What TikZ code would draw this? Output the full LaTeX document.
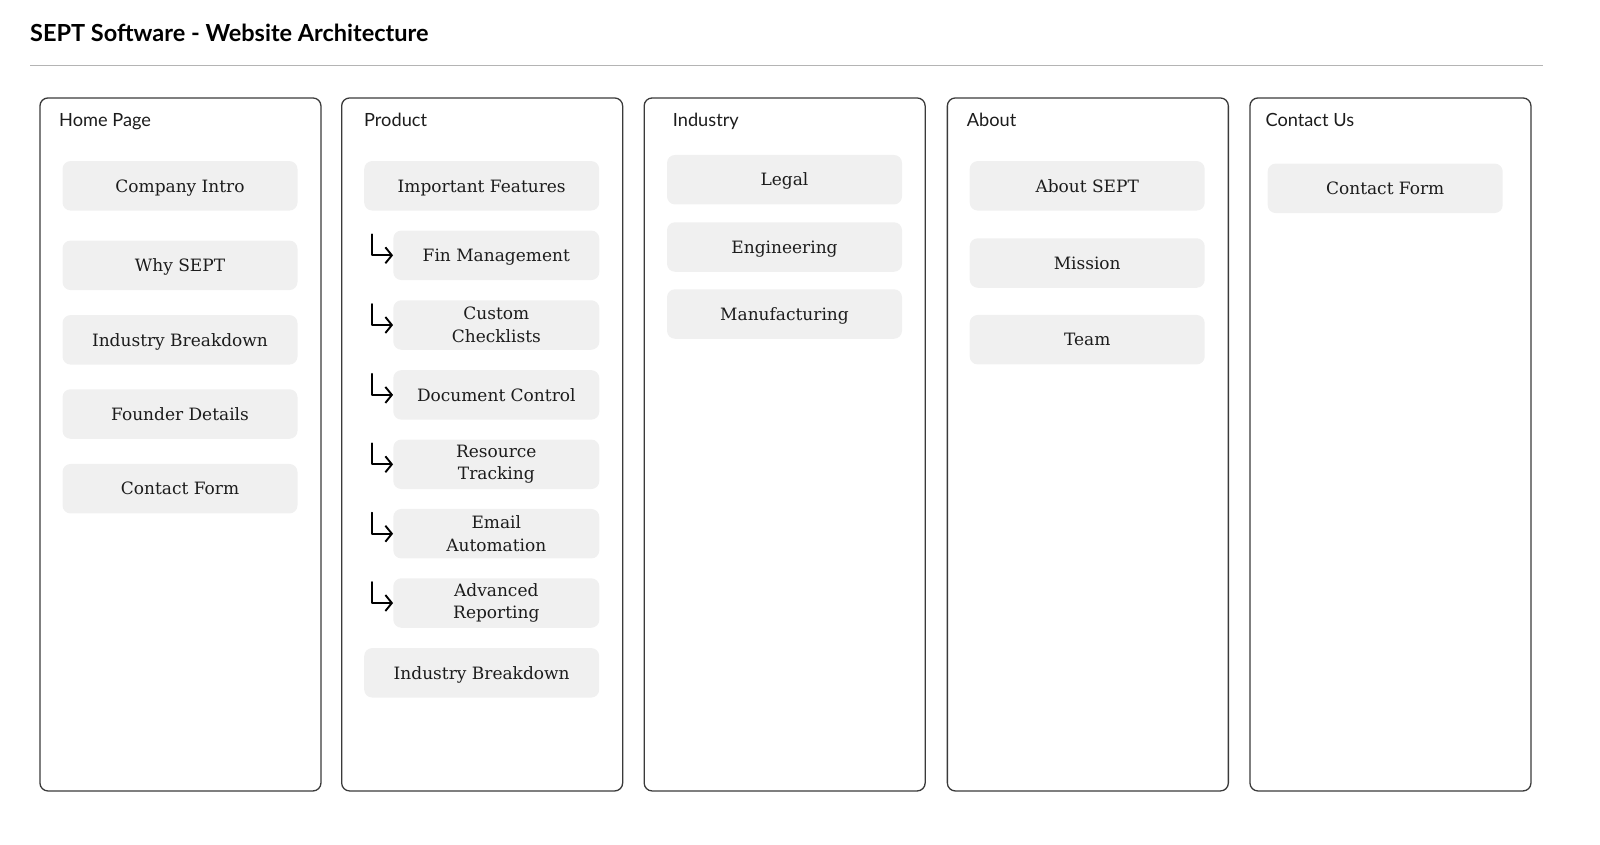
\documentclass[tikz,border=0pt]{standalone}
\usepackage{fontspec}
\usetikzlibrary{arrows.meta}
\setmainfont{DejaVu Serif}
\newfontfamily\headfont{Lato}
\definecolor{itemgray}{HTML}{F0F0F0}
\definecolor{framegray}{HTML}{3A3A3A}
\definecolor{rulegray}{HTML}{B4B4B4}
\definecolor{inktext}{HTML}{1C1C1C}
\begin{document}
\begin{tikzpicture}[x=1pt,y=-1pt,line join=round,
	colbox/.style={draw=framegray,line width=1.3pt,rounded corners=8pt,minimum width=281pt,minimum height=693pt,anchor=north west,inner sep=0pt},
	colhead/.style={anchor=base west,inner sep=0pt,font=\headfont\fontsize{18.2}{21}\selectfont,text=inktext},
	itembox/.style={fill=itemgray,rounded corners=8pt,minimum width=235pt,minimum height=49.5pt,inner sep=0pt,align=center,text=inktext,font=\fontsize{17}{22.4}\selectfont,text height=12.4pt,text depth=0pt},
	subbox/.style={itembox,minimum width=206pt},
	twoline/.style={text height=,text depth=},
	subarrow/.style={-{Straight Barb[length=6.5pt,width=16pt]},line width=1.9pt,line cap=round}]
	\useasboundingbox (0,0) rectangle (1600,844);
	% title and rule
	\node[anchor=base west,inner sep=0pt,font=\headfont\bfseries\fontsize{23.5}{26}\selectfont,text=black] (title) at (30,41.7) {SEPT Software - Website Architecture};
	\coordinate (ruleL) at (30,65.7);
	\coordinate (ruleR) at (1543,65.7);
	\draw[rulegray,line width=1.5pt] (ruleL) -- (ruleR);
	% columns
	\node[colbox] (home) at (39.3,97.3) {};
	\node[colbox] (product) at (341,97.3) {};
	\node[colbox] (industry) at (643.5,97.3) {};
	\node[colbox] (about) at (946.7,97.3) {};
	\node[colbox] (contact) at (1249.3,97.3) {};
	\node[colhead] (homehead) at (59,126) {Home Page};
	\node[colhead] (producthead) at (364,126) {Product};
	\node[colhead] (industryhead) at (672.7,126) {Industry};
	\node[colhead] (abouthead) at (966.7,126) {About};
	\node[colhead] (contacthead) at (1265.3,126) {Contact Us};
	% home page
	\node[itembox] (intro) at (180,185.8) {Company Intro};
	\node[itembox] (why) at (180,265.3) {Why SEPT};
	\node[itembox] (breakdown) at (180,339.8) {Industry Breakdown};
	\node[itembox] (founder) at (180,414) {Founder Details};
	\node[itembox] (homeform) at (180,488.7) {Contact Form};
	% product
	\node[itembox] (features) at (481.7,185.8) {Important Features};
	\node[subbox] (fin) at (496.3,255.3) {Fin Management};
	\node[subbox,twoline] (custom) at (496.3,325) {Custom\\Checklists};
	\node[subbox] (doc) at (496.3,394.9) {Document Control};
	\node[subbox,twoline] (res) at (496.3,464.3) {Resource\\Tracking};
	\node[subbox,twoline] (email) at (496.3,533.7) {Email\\Automation};
	\node[subbox,twoline] (adv) at (496.3,603) {Advanced\\Reporting};
	\node[itembox] (prodbreakdown) at (481.7,672.8) {Industry Breakdown};
	\foreach \n in {fin,custom,doc,res,email,adv}
		\draw[subarrow] ([shift={(-21,-21)}]\n.west) |- (\n.west);
	% industry
	\node[itembox] (legal) at (784.5,179.7) {Legal};
	\node[itembox] (engineering) at (784.5,247) {Engineering};
	\node[itembox] (manufacturing) at (784.5,314) {Manufacturing};
	% about
	\node[itembox] (aboutsept) at (1087.2,185.8) {About SEPT};
	\node[itembox] (mission) at (1087.2,263) {Mission};
	\node[itembox] (team) at (1087.2,339.7) {Team};
	% contact us
	\node[itembox] (contactform) at (1385.2,188.3) {Contact Form};
\end{tikzpicture}
\end{document}
